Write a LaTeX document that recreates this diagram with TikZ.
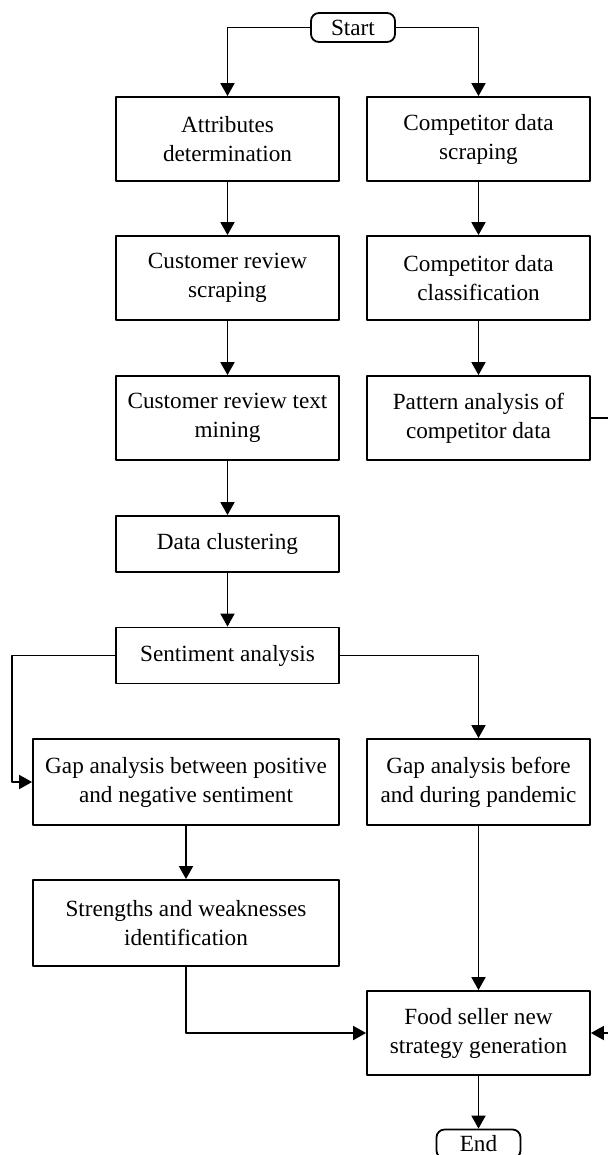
\documentclass[tikz,border=0pt]{standalone}
\usepackage{fontspec}
\setmainfont{Liberation Serif}
\usetikzlibrary{arrows.meta}
\begin{document}
\begin{tikzpicture}[x=0.5pt, y=-0.5pt, line join=round, >={Triangle[length=6.5pt,width=7pt]},
  font=\fontsize{11.6}{14.5}\selectfont,
  proc/.style={draw, line width=0.9pt, align=center, minimum width=111.5pt, minimum height=42pt, inner sep=0pt},
  wideproc/.style={proc, minimum width=153pt, minimum height=43pt},
  shortproc/.style={proc, minimum height=28pt},
  term/.style={draw, line width=0.9pt, rounded corners=4pt, minimum width=42pt, minimum height=14.5pt, inner sep=0pt},
  flow/.style={->, line width=0.9pt}]
\useasboundingbox (0,0) rectangle (608,1155);
\clip (0,0) rectangle (608,1155);
% terminals
\node[term] (start) at (353,27.5) {Start};
\node[term] (end) at (478.5,1144) {End};
% left column
\node[proc] (attr) at (227.5,139) {Attributes\\determination};
\node[proc] (cscrap) at (227.5,278) {Customer review\\scraping};
\node[proc] (mining) at (227.5,418) {Customer review text\\mining};
\node[shortproc] (cluster) at (227.5,544) {Data clustering};
\node[shortproc] (senti) at (227.5,655.5) {Sentiment analysis};
\node[wideproc] (gappn) at (186,782) {Gap analysis between positive\\and negative sentiment};
\node[wideproc] (strength) at (186,923) {Strengths and weaknesses\\identification};
% right column
\node[proc] (comp) at (478.5,139) {Competitor data\\scraping};
\node[proc] (cclass) at (478.5,278) {Competitor data\\classification};
\node[proc] (pattern) at (478.5,418) {Pattern analysis of\\competitor data};
\node[proc, minimum height=43pt] (gappd) at (478.5,782) {Gap analysis before\\and during pandemic};
\node[proc] (food) at (478.5,1033) {Food seller new\\strategy generation};
% free ends
\coordinate (bend) at (12,655.5);
\coordinate (pout) at (625,418);
\coordinate (fin) at (625,1033);
% connectors
\draw[flow] (start.west) -| (attr.north);
\draw[flow] (start.east) -| (comp.north);
\foreach \a/\b in {attr/cscrap, cscrap/mining, mining/cluster, cluster/senti, gappn/strength, comp/cclass, cclass/pattern, gappd/food, food/end}{
  \draw[flow] (\a) -- (\b);
}
\draw[flow] (senti.west) -- (bend) |- (gappn.west);
\draw[flow] (senti.east) -| (gappd.north);
\draw[flow] (strength.south) |- (food.west);
\draw[line width=0.9pt] (pattern.east) -- (pout);
\draw[flow] (fin) -- (food.east);
\end{tikzpicture}
\end{document}
